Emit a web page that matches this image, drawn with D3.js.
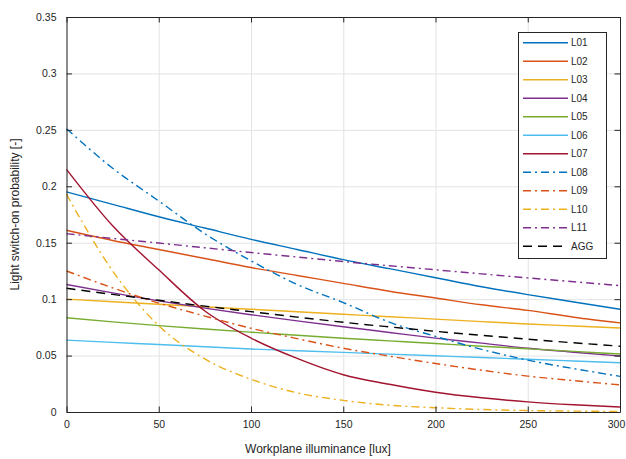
<!DOCTYPE html>
<html>
<head>
<meta charset="utf-8">
<script src="https://cdn.jsdelivr.net/npm/d3@7"></script>
<style>
  body { margin: 0; background: #fff; }
  #chart text { font-family: "Liberation Sans", Arial, sans-serif; fill: #262626; }
</style>
</head>
<body>
<div id="chart"></div>
<script>

var illuminance = [0, 25, 50, 75, 100, 125, 150, 175, 200, 225, 250, 275, 300];

var seriesNames = ["L01", "L02", "L03", "L04", "L05", "L06", "L07", "L08", "L09", "L10", "L11", "AGG"];

var L01 = [0.195, 0.184, 0.173, 0.163, 0.153, 0.144, 0.135, 0.127, 0.119, 0.111, 0.104, 0.0975, 0.091];
var L02 = [0.161, 0.152, 0.144, 0.136, 0.128, 0.121, 0.114, 0.107, 0.101, 0.095, 0.090, 0.084, 0.079];
var L03 = [0.100, 0.0977, 0.0955, 0.0932, 0.091, 0.0888, 0.0866, 0.0844, 0.0823, 0.0801, 0.078, 0.0762, 0.0744];
var L04 = [0.113, 0.1055, 0.0985, 0.092, 0.0862, 0.0807, 0.0755, 0.0705, 0.0655, 0.061, 0.0565, 0.053, 0.0496];
var L05 = [0.0835, 0.0799, 0.0765, 0.0735, 0.0707, 0.068, 0.0653, 0.063, 0.0607, 0.0583, 0.056, 0.0537, 0.0514];
var L06 = [0.0637, 0.0617, 0.0598, 0.0578, 0.0558, 0.0543, 0.0528, 0.0513, 0.0498, 0.0483, 0.0467, 0.0452, 0.0437];
var L07 = [0.215, 0.165, 0.126, 0.0895, 0.0655, 0.0475, 0.033, 0.0246, 0.0175, 0.0126, 0.009, 0.0064, 0.0044];
var L08 = [0.251, 0.216, 0.187, 0.158, 0.134, 0.113, 0.097, 0.0796, 0.067, 0.0555, 0.046, 0.0384, 0.0316];
var L09 = [0.125, 0.110, 0.0965, 0.085, 0.0742, 0.065, 0.0565, 0.0495, 0.043, 0.037, 0.0318, 0.0278, 0.024];
var L10 = [0.193, 0.125, 0.0765, 0.047, 0.029, 0.017, 0.0103, 0.006, 0.0038, 0.0022, 0.0013, 0.0008, 0.0005];
var L11 = [0.158, 0.1538, 0.1497, 0.1455, 0.1413, 0.1373, 0.1333, 0.1296, 0.126, 0.1224, 0.1188, 0.1154, 0.112];
var AGG = [0.1096, 0.1042, 0.099, 0.0938, 0.0889, 0.0841, 0.0795, 0.0754, 0.0715, 0.0679, 0.0645, 0.0613, 0.0583];

var xTicks = [0, 50, 100, 150, 200, 250, 300];
var yTicks = [0, 0.05, 0.1, 0.15, 0.2, 0.25, 0.3, 0.35];


LineChart = function(_parentElement) {
  this.parentElement = _parentElement;
  this.winWidth = 626;
  this.winHeight = 459;

  // matlab default colour order, repeated for the dash-dot set
  this.colors = ["#0072BD", "#D95319", "#EDB120", "#7E2F8E", "#77AC30", "#4DBEEE", "#A2142F",
    "#0072BD", "#D95319", "#EDB120", "#7E2F8E", "#000000"];
  this.dashes = ["none", "none", "none", "none", "none", "none", "none",
    "8,4,2,4", "8,4,2,4", "8,4,2,4", "8,4,2,4", "9,6"];

  this.wrangleData();
};

LineChart.prototype.wrangleData = function() {
  var vis = this;
  var values = [L01, L02, L03, L04, L05, L06, L07, L08, L09, L10, L11, AGG];

  vis.fin_data = seriesNames.map(function(name, i) {
    return {
      name: name,
      values: illuminance.map(function(e, j) { return {x: e, y: values[i][j]}; })
    };
  });

  vis.createVis();
};

LineChart.prototype.createVis = function() {
  var vis = this;

  vis.margin = {top: 17, right: 6, bottom: 47, left: 66.5};
  vis.width = vis.winWidth - vis.margin.left - vis.margin.right;
  vis.height = vis.winHeight - vis.margin.top - vis.margin.bottom;

  vis.svgparent = d3.select(vis.parentElement).append("svg")
  .attr("width", vis.winWidth)
  .attr("height", vis.winHeight);

  vis.svg = vis.svgparent.append("g")
  .attr("transform", "translate(" + vis.margin.left + "," + vis.margin.top + ")");

  vis.x = d3.scaleLinear().domain([0, 300]).range([0, vis.width]);
  vis.y = d3.scaleLinear().domain([0, 0.35]).range([vis.height, 0]);

  // grid
  vis.svg.append("g")
  .attr("class", "grid")
  .attr("transform", "translate(0," + vis.height + ")")
  .call(d3.axisBottom(vis.x).tickValues(xTicks).tickSizeInner(-vis.height).tickSizeOuter(0).tickFormat(""));

  vis.svg.append("g")
  .attr("class", "grid")
  .call(d3.axisLeft(vis.y).tickValues(yTicks).tickSizeInner(-vis.width).tickSizeOuter(0).tickFormat(""));

  vis.svg.selectAll(".grid .domain").remove();
  vis.svg.selectAll(".grid line").attr("stroke", "#e3e3e3").attr("stroke-width", 1);

  // curves
  var line = d3.line()
  .x(function(d) { return vis.x(d.x); })
  .y(function(d) { return vis.y(d.y); })
  .curve(d3.curveMonotoneX);

  vis.svg.selectAll("path.series")
  .data(vis.fin_data)
  .enter().append("path")
  .attr("class", "series")
  .attr("fill", "none")
  .attr("stroke", function(d, i) { return vis.colors[i]; })
  .attr("stroke-width", 1.4)
  .attr("stroke-dasharray", function(d, i) { return vis.dashes[i]; })
  .attr("d", function(d) { return line(d.values); });

  // box axes, ticks pointing in
  vis.xAxis = vis.svg.append("g")
  .attr("class", "axis")
  .attr("transform", "translate(0," + vis.height + ")")
  .call(d3.axisBottom(vis.x).tickValues(xTicks).tickSizeInner(-5.5).tickSizeOuter(0).tickPadding(9));

  // last label sits against the window edge, nudge it in like the original
  vis.xAxis.selectAll(".tick:last-of-type text").attr("dx", -4);

  vis.yAxis = vis.svg.append("g")
  .attr("class", "axis")
  .call(d3.axisLeft(vis.y).tickValues(yTicks).tickSizeInner(-5.5).tickSizeOuter(0).tickPadding(10)
    .tickFormat(function(d) { return String(+d.toFixed(2)); }));

  vis.svg.append("g")
  .attr("class", "axis")
  .call(d3.axisTop(vis.x).tickValues(xTicks).tickSizeInner(-5.5).tickSizeOuter(0).tickFormat(""));

  vis.svg.append("g")
  .attr("class", "axis")
  .attr("transform", "translate(" + vis.width + ",0)")
  .call(d3.axisRight(vis.y).tickValues(yTicks).tickSizeInner(-5.5).tickSizeOuter(0).tickFormat(""));

  vis.svg.selectAll(".axis .domain").attr("stroke", "#262626");
  vis.svg.selectAll(".axis line").attr("stroke", "#262626");
  vis.svg.selectAll(".axis text").style("font-size", "10.5px").attr("fill", "#262626");

  vis.xLabel = vis.svg.append("text")
  .attr("x", 318 - vis.margin.left)
  .attr("y", vis.height + 41)
  .style("text-anchor", "middle")
  .style("font-size", "12px")
  .text("Workplane illuminance [lux]");

  vis.yLabel = vis.svg.append("text")
  .attr("transform", "rotate(-90)")
  .attr("x", -vis.height / 2)
  .attr("y", -vis.margin.left + 19)
  .style("text-anchor", "middle")
  .style("font-size", "12px")
  .text("Light switch-on probability [-]");

  // legend
  var lg = vis.svgparent.append("g").attr("transform", "translate(518.5,32.5)");

  lg.append("rect")
  .attr("width", 88)
  .attr("height", 226)
  .attr("fill", "#fff")
  .attr("stroke", "#262626")
  .attr("stroke-width", 1);

  var items = lg.selectAll("g.item")
  .data(vis.fin_data)
  .enter().append("g")
  .attr("class", "item")
  .attr("transform", function(d, i) { return "translate(0," + (10.2 + i * 18.5) + ")"; });

  items.append("line")
  .attr("x1", 4.5)
  .attr("x2", 49.5)
  .attr("stroke", function(d, i) { return vis.colors[i]; })
  .attr("stroke-width", 1.4)
  .attr("stroke-dasharray", function(d, i) { return vis.dashes[i]; });

  items.append("text")
  .attr("x", 52.5)
  .attr("dy", "0.35em")
  .style("font-size", "10px")
  .text(function(d) { return d.name; });
};

var chart = new LineChart("#chart");
</script>
</body>
</html>
